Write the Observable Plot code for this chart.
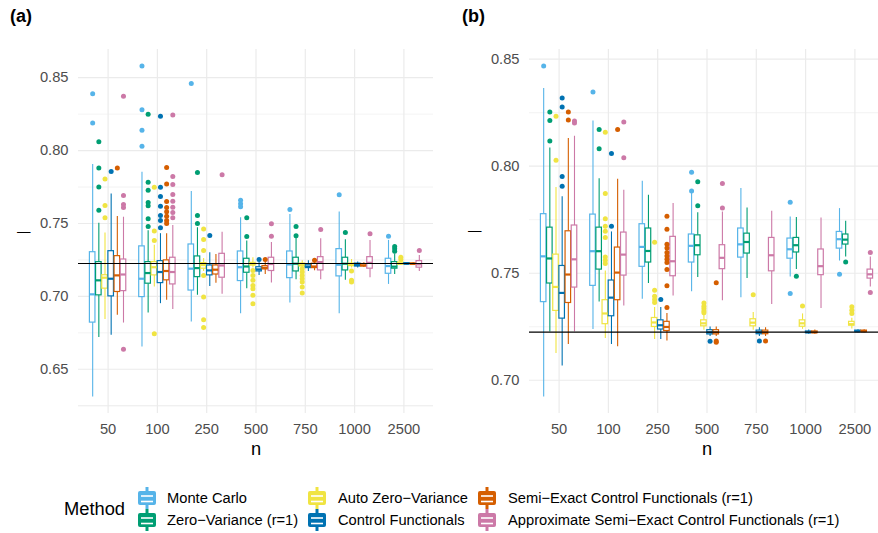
<!DOCTYPE html>
<html><head><meta charset="utf-8">
<script src="https://cdn.jsdelivr.net/npm/d3@7"></script>
<script src="https://cdn.jsdelivr.net/npm/@observablehq/plot@0.6"></script>
<style>
html,body{margin:0;padding:0;background:#fff;overflow:hidden;}
#root{position:relative;width:878px;height:533px;font-family:"Liberation Sans",Arial,Helvetica,sans-serif;overflow:hidden;}
.abs{position:absolute;white-space:nowrap;}
</style></head><body><div id="root"></div>
<script>
// ---------- data ----------
const nLabels = ["50","100","250","500","750","1000","2500"];
const methods = ["Monte Carlo","Zero\u2212Variance (r=1)","Auto Zero\u2212Variance","Control Functionals","Semi\u2212Exact Control Functionals (r=1)","Approximate Semi\u2212Exact Control Functionals (r=1)"];
const colors = ["#56B4E9","#009E73","#F0E442","#0072B2","#D55E00","#CC79A7"];
const truth = 0.7225;
const yTicksA = [0.65,0.70,0.75,0.80,0.85];
const yTicksB = [0.70,0.75,0.80,0.85];

// box stats per n: [lower whisker, Q1, median, Q3, upper whisker]
// ---- panel (a) ----
const aMC = [[0.631,0.682,0.7014,0.7303,0.7904],[0.6653,0.6995,0.7121,0.7343,0.7852],[0.6824,0.704,0.719,0.7356,0.772],[0.688,0.7105,0.720,0.7308,0.754],[0.6954,0.7125,0.7219,0.7308,0.7562],[0.688,0.7137,0.7217,0.7324,0.7578],[0.7082,0.7155,0.7208,0.7258,0.7384]];
const aZV = [[0.6717,0.7007,0.711,0.7235,0.7502],[0.6886,0.7087,0.716,0.7235,0.745],[0.7007,0.7132,0.7194,0.7274,0.747],[0.7053,0.7162,0.7205,0.7258,0.738],[0.7114,0.7171,0.7224,0.7265,0.740],[0.711,0.7178,0.7224,0.7265,0.7388],[0.715,0.719,0.7204,0.7235,0.729]];
const aAZV = [[0.6842,0.7053,0.7128,0.7145,0.7434],[0.7064,0.7144,0.720,0.7235,0.735],[0.717,0.719,0.7215,0.7228,0.726],[0.7195,0.7212,0.722,0.723,0.7265],[0.7195,0.7205,0.7215,0.7225,0.7245],[0.7195,0.7208,0.7215,0.7225,0.7253],[0.7212,0.7218,0.7225,0.7232,0.724]];
const aCF = [[0.6733,0.700,0.7121,0.731,0.7703],[0.695,0.7091,0.7167,0.7242,0.743],[0.7068,0.7144,0.7178,0.7212,0.730],[0.7144,0.7171,0.7185,0.720,0.7235],[0.717,0.7194,0.7205,0.7217,0.7245],[0.7195,0.7205,0.7215,0.7225,0.7235],[0.7216,0.722,0.7224,0.7228,0.7232]];
const aSECF = [[0.687,0.703,0.7144,0.7276,0.7548],[0.6973,0.711,0.7174,0.7247,0.743],[0.709,0.715,0.7183,0.7212,0.7288],[0.715,0.7185,0.7196,0.7208,0.7235],[0.7175,0.7194,0.7205,0.7224,0.7235],[0.7198,0.7205,0.7213,0.7222,0.723],[0.7216,0.722,0.7223,0.7226,0.723]];
const aASECF = [[0.6817,0.7036,0.715,0.7253,0.7543],[0.691,0.7082,0.7167,0.7265,0.7486],[0.7014,0.7128,0.7212,0.7292,0.744],[0.7091,0.7174,0.7222,0.7265,0.737],[0.7114,0.7178,0.7235,0.7269,0.7395],[0.7128,0.719,0.723,0.7269,0.7384],[0.717,0.7197,0.722,0.7242,0.728]];
// outliers per n
const aMCOut = [[0.839,0.819],[0.858,0.828,0.814,0.803],[0.846],[0.766,0.7635,0.7615],[0.7596],[0.7697],[0.7413]];
const aZVOut = [[0.806,0.788,0.775,0.759],[0.8249,0.7783,0.7728,0.7644,0.7621,0.7532,0.748],[0.785,0.7555,0.750],[0.754,0.7411],[0.748,0.7416],[0.7438],[0.7342,0.7327,0.731]];
const aAZVOut = [[0.7806,0.7623,0.754],[0.7749,0.7448,0.7384,0.6744],[0.7463,0.739,0.7315,0.7144,0.6995,0.684,0.6786],[0.7178,0.7144,0.711,0.7075,0.7053,0.7007,0.695],[0.719,0.7167,0.7144,0.7121,0.7098,0.7064,0.7023],[0.7174,0.711,0.7098],[0.7269,0.7253]];
const aCFOut = [[0.7856],[0.8235,0.7749,0.7685,0.7619,0.7555,0.7521,0.7471],[0.7418],[0.7253],[],[],[]];
const aSECFOut = [[0.788],[0.7884,0.777,0.765,0.761,0.758,0.755,0.752,0.750],[],[0.7253],[0.7247],[],[]];
const aASECFOut = [[0.8372,0.7692,0.763,0.761,0.6637],[0.8245,0.7822,0.7767,0.7699,0.7653,0.7612,0.7575,0.754],[0.7834],[0.7498,0.7413],[0.7459],[0.743],[0.7315]];

// ---- panel (b) ----
const bMC = [[0.6922,0.7365,0.7579,0.7776,0.8363],[0.7237,0.7441,0.7603,0.7774,0.8211],[0.7379,0.753,0.7623,0.7729,0.793],[0.7413,0.755,0.7628,0.7681,0.7872],[0.7385,0.7573,0.7635,0.7709,0.7896],[0.7483,0.7568,0.7612,0.7662,0.7763],[0.7557,0.7615,0.7659,0.7693,0.7802]];
const bZV = [[0.7226,0.7452,0.7569,0.7713,0.8085],[0.7366,0.7517,0.7603,0.7713,0.7942],[0.7452,0.755,0.7604,0.7709,0.7864],[0.748,0.7584,0.7631,0.7677,0.7783],[0.7475,0.7592,0.7646,0.7685,0.7805],[0.7517,0.7597,0.7631,0.7665,0.776],[0.7576,0.7634,0.7657,0.7681,0.7743]];
const bAZV = [[0.7125,0.7324,0.7436,0.7587,0.790],[0.7195,0.7262,0.7312,0.7374,0.7511],[0.719,0.7249,0.727,0.7291,0.734],[0.7234,0.7252,0.7266,0.728,0.7304],[0.7234,0.7252,0.7269,0.7285,0.7316],[0.7238,0.725,0.7266,0.728,0.731],[0.724,0.7255,0.7262,0.7273,0.729]];
const bCF = [[0.7067,0.7288,0.7408,0.7534,0.7857],[0.7167,0.7299,0.7386,0.7466,0.7693],[0.719,0.7237,0.7257,0.728,0.734],[0.7205,0.7214,0.7224,0.7234,0.7249],[0.7205,0.7215,0.7224,0.7232,0.7245],[0.7215,0.722,0.7224,0.7228,0.7235],[0.7222,0.7226,0.7229,0.7232,0.7236]];
const bSECF = [[0.7167,0.7361,0.7494,0.7696,0.8129],[0.7156,0.7374,0.7503,0.762,0.7939],[0.7184,0.723,0.7249,0.7273,0.7312],[0.7205,0.7214,0.7224,0.7234,0.7249],[0.7205,0.7215,0.7224,0.7232,0.7245],[0.7215,0.722,0.7224,0.7228,0.7235],[0.7222,0.7226,0.7229,0.7232,0.7236]];
const bASECF = [[0.7226,0.7433,0.7565,0.7723,0.814],[0.7347,0.7489,0.7587,0.769,0.7888],[0.7394,0.7486,0.7556,0.767,0.7826],[0.7371,0.7519,0.7572,0.7631,0.7786],[0.7354,0.7509,0.7584,0.7665,0.779],[0.7335,0.7491,0.7533,0.7611,0.7758],[0.7436,0.7475,0.7495,0.7517,0.7576]];
const bMCOut = [[0.8468],[0.8347],[],[0.7972,0.7884],[],[0.7832,0.7405],[0.7495]];
const bZVOut = [[0.8253,0.8214,0.8118],[0.8171,0.8082],[],[0.7927,0.7815],[],[0.7486],[0.7553]];
const bAZVOut = [[0.8233,0.8028],[0.8159,0.7872,0.7755,0.772,0.7696,0.7667,0.7576,0.7561,0.7545],[0.7645,0.7421,0.7393,0.7377,0.7363],[0.7361,0.7346,0.7335,0.7324,0.7315],[0.7399],[0.7347],[0.7343,0.7327,0.7312]];
const bCFOut = [[0.8319,0.8277,0.7952,0.7906],[0.8059,0.772],[0.7377],[0.7182],[0.7184],[],[]];
const bSECFOut = [[0.8253,0.8216],[0.8171],[0.7766,0.7706,0.7635,0.7618,0.7597,0.7581,0.7565,0.755,0.7517,0.7441,0.734],[0.7455,0.7184,0.7178],[0.7184],[],[]];
const bASECFOut = [[0.8211,0.8202],[0.8207,0.804],[],[0.7919,0.7805],[],[],[0.7597,0.741]];

// ---------- drawing ----------
const fontFamily = '"Liberation Sans", Arial, Helvetica, sans-serif';
const dodge = 0.125, half = 0.9 * dodge / 2;
const root = document.getElementById("root");

function makePanel(series, outSeries, yTicks, width, marginLeft, marginRight) {
  const rows = [], dots = [];
  series.forEach((arr, j) => arr.forEach((s, i) => {
    const x = i + (j - 2.5) * dodge;
    rows.push({method: methods[j], x, x1: x - half, x2: x + half, lo: s[0], q1: s[1], med: s[2], q3: s[3], hi: s[4]});
    outSeries[j][i].forEach(v => dots.push({method: methods[j], x, y: v}));
  }));
  const all = rows.flatMap(r => [r.lo, r.hi]).concat(dots.map(d => d.y));
  const [mn, mx] = d3.extent(all);
  const pad = (mx - mn) * 0.05;
  const dom = [mn - pad, mx + pad];
  const step = yTicks[1] - yTicks[0];
  const minor = d3.range(yTicks[0] - step * 1.5, yTicks[yTicks.length - 1] + step, step).map(v => +(v + step).toFixed(4)).concat([+(yTicks[0] - step / 2).toFixed(4)])
    .filter(v => v >= dom[0] && v <= dom[1] && !yTicks.some(t => Math.abs(t - v) < 1e-6));
  return Plot.plot({
    width, height: 470, marginLeft, marginRight, marginTop: 49, marginBottom: 57,
    x: {type: "linear", domain: [-0.6, 6.6]},
    y: {domain: dom},
    color: {domain: methods, range: colors},
    style: {fontFamily, fontSize: "14.7px", background: "transparent", overflow: "visible"},
    marks: [
      Plot.ruleY(minor, {stroke: "#ebebeb", strokeWidth: 0.6}),
      Plot.ruleY(yTicks, {stroke: "#ebebeb", strokeWidth: 1.2}),
      Plot.ruleX(d3.range(nLabels.length), {stroke: "#ebebeb", strokeWidth: 1.2}),
      Plot.axisY(yTicks, {tickSize: 0, tickPadding: 10, tickFormat: d => d.toFixed(2), label: null, color: "#4d4d4d"}),
      Plot.axisX(d3.range(nLabels.length), {tickSize: 0, tickPadding: 10, tickFormat: i => nLabels[i], label: null, color: "#4d4d4d"}),
      Plot.ruleX(rows, {x: "x", y1: "lo", y2: "q1", stroke: "method", strokeWidth: 1.1}),
      Plot.ruleX(rows, {x: "x", y1: "q3", y2: "hi", stroke: "method", strokeWidth: 1.1}),
      Plot.rect(rows, {x1: "x1", x2: "x2", y1: "q1", y2: "q3", fill: "white", stroke: "method", strokeWidth: 1.2}),
      Plot.ruleY(rows, {x1: "x1", x2: "x2", y: "med", stroke: "method", strokeWidth: 2.2}),
      Plot.dot(dots, {x: "x", y: "y", fill: "method", r: 2.5}),
      Plot.ruleY([truth], {stroke: "black", strokeWidth: 1.1}),
      Plot.text(["n"], {text: d => d, frameAnchor: "bottom", lineAnchor: "middle", dy: 36, fontSize: 18.3, fill: "black"})
    ]
  });
}

function place(el, left, top) {
  el.style.position = "absolute"; el.style.left = left + "px"; el.style.top = top + "px";
  root.appendChild(el);
}

const pa = makePanel([aMC, aZV, aAZV, aCF, aSECF, aASECF], [aMCOut, aZVOut, aAZVOut, aCFOut, aSECFOut, aASECFOut], yTicksA, 440, 78, 7);
place(pa, 0, 0);
const pb = makePanel([bMC, bZV, bAZV, bCF, bSECF, bASECF], [bMCOut, bZVOut, bAZVOut, bCFOut, bSECFOut, bASECFOut], yTicksB, 444, 89, 0);
place(pb, 440, 0);

function label(text, left, cy, size, extra) {
  const d = document.createElement("div");
  d.className = "abs";
  d.textContent = text;
  d.style.fontSize = size + "px";
  d.style.lineHeight = "20px";
  d.style.left = left + "px";
  d.style.top = (cy - 10) + "px";
  if (extra) Object.assign(d.style, extra);
  root.appendChild(d);
  return d;
}
label("(a)", 10, 16, 18, {fontWeight: "bold"});
label("(b)", 462, 16, 18, {fontWeight: "bold"});
label("\u2014", 17, 232, 13.5, {});
label("\u2014", 468, 231, 13.5, {});

// legend
label("Method", 64, 509, 18.3, {});
const colKeyX = [137, 307, 477], colTextX = [167, 338, 508], rowY = [497.5, 519.5];
methods.forEach((m, j) => {
  const col = Math.floor(j / 2), row = j % 2;
  const ns = "http://www.w3.org/2000/svg";
  const svg = document.createElementNS(ns, "svg");
  svg.setAttribute("width", 20); svg.setAttribute("height", 24);
  svg.style.position = "absolute";
  svg.style.left = colKeyX[col] + "px";
  svg.style.top = (rowY[row] - 12) + "px";
  svg.innerHTML = `<line x1="10" x2="10" y1="1" y2="23" stroke="${colors[j]}" stroke-width="3"/>
    <rect x="1" y="5" width="18" height="14" rx="2" fill="${colors[j]}"/>
    <line x1="4" x2="16" y1="10" y2="10" stroke="white" stroke-width="1.6"/>
    <line x1="4" x2="16" y1="15.5" y2="15.5" stroke="white" stroke-width="1.6"/>`;
  root.appendChild(svg);
  label(m, colTextX[col], rowY[row], 14.7, {});
});
</script></body></html>
